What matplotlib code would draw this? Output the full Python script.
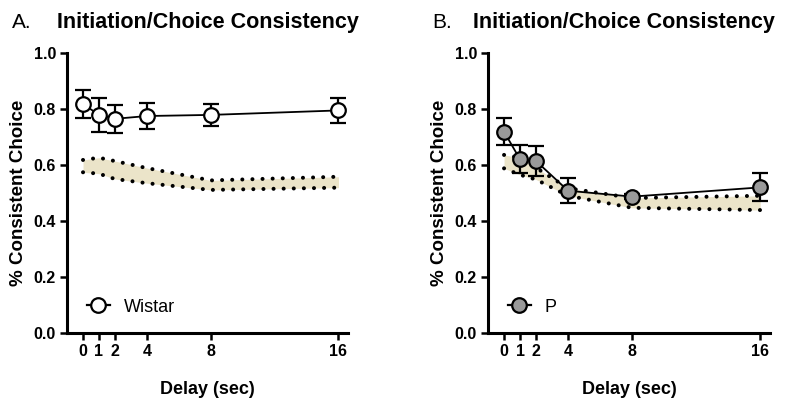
import numpy as np
import matplotlib.pyplot as plt
from matplotlib.lines import Line2D

plt.rcParams['font.family'] = ['Liberation Sans', 'DejaVu Sans']

# delays (sec)
delays = [0, 1, 2, 4, 8, 16]

# panel A - Wistar
wistar_mean = [0.818, 0.779, 0.765, 0.775, 0.779, 0.795]
wistar_err = [0.05, 0.06, 0.05, 0.045, 0.04, 0.044]
wistar_band_hi = [0.618, 0.626, 0.614, 0.589, 0.545, 0.558]
wistar_band_lo = [0.574, 0.569, 0.550, 0.535, 0.511, 0.519]

# panel B - P
p_mean = [0.719, 0.620, 0.614, 0.508, 0.487, 0.520]
p_err = [0.048, 0.05, 0.053, 0.045, 0.01, 0.05]
p_band_hi = [0.636, 0.626, 0.590, 0.517, 0.482, 0.490]
p_band_lo = [0.588, 0.565, 0.548, 0.490, 0.447, 0.439]

title_text = 'Initiation/Choice Consistency'

fig = plt.figure(figsize=(7.85, 4.05), dpi=100)
ax_a = fig.add_axes([0.0854, 0.178, 0.358, 0.691])
ax_b = fig.add_axes([0.6217, 0.178, 0.359, 0.691])

panels = [
    (ax_a, wistar_mean, wistar_err, wistar_band_hi, wistar_band_lo, 'white', 'Wistar'),
    (ax_b, p_mean, p_err, p_band_hi, p_band_lo, '#9a9a9a', 'P'),
]

dot_style = (0, (0.01, 2.5))

for ax, mean, err, hi, lo, face, name in panels:
    # shuffled band
    ax.fill_between(delays, lo, hi, color='#ebe4c9', lw=0, zorder=1)
    ax.plot(delays, hi, color='black', lw=2.9, linestyle=dot_style,
            dash_capstyle='round', zorder=2)
    ax.plot(delays, lo, color='black', lw=2.9, linestyle=dot_style,
            dash_capstyle='round', zorder=2)
    ax.errorbar(delays, mean, yerr=err, color='black', lw=1.3, elinewidth=1.6,
                capsize=5.5, capthick=1.8, marker='o', markersize=10.5,
                markerfacecolor=face, markeredgecolor='black', markeredgewidth=1.6,
                zorder=3)

    ax.set_xlim(-1.0, 16.6)
    ax.set_ylim(0, 1.0)
    ax.set_xticks(delays)
    yt = np.arange(0, 1.01, 0.2)
    ax.set_yticks(yt)
    ax.set_yticklabels(['%.1f' % v for v in yt])
    for s in ['top', 'right']:
        ax.spines[s].set_visible(False)
    for s in ['left', 'bottom']:
        ax.spines[s].set_linewidth(2.2)
    ax.tick_params(width=1.8, length=5, labelsize=11.5, pad=3)
    for lab in ax.get_xticklabels() + ax.get_yticklabels():
        lab.set_fontweight('bold')
    ax.set_xlabel('Delay (sec)', fontsize=13, fontweight='bold', labelpad=16)
    ax.set_ylabel('% Consistent Choice', fontsize=13.5, fontweight='bold', labelpad=5)

    handle = Line2D([], [], color='black', lw=1.6, marker='o', markersize=10.5,
                    markerfacecolor=face, markeredgecolor='black', markeredgewidth=1.6)
    ax.legend([handle], [name], loc='lower left', bbox_to_anchor=(0.045, 0.036),
              borderaxespad=0, frameon=False, fontsize=13, handlelength=1.27,
              handletextpad=0.77)

fig.text(0.015, 0.932, 'A.', fontsize=15)
fig.text(0.073, 0.932, title_text, fontsize=15.5, fontweight='bold')
fig.text(0.551, 0.932, 'B.', fontsize=15)
fig.text(0.603, 0.932, title_text, fontsize=15.5, fontweight='bold')

fig.savefig('out.png', dpi=100)
